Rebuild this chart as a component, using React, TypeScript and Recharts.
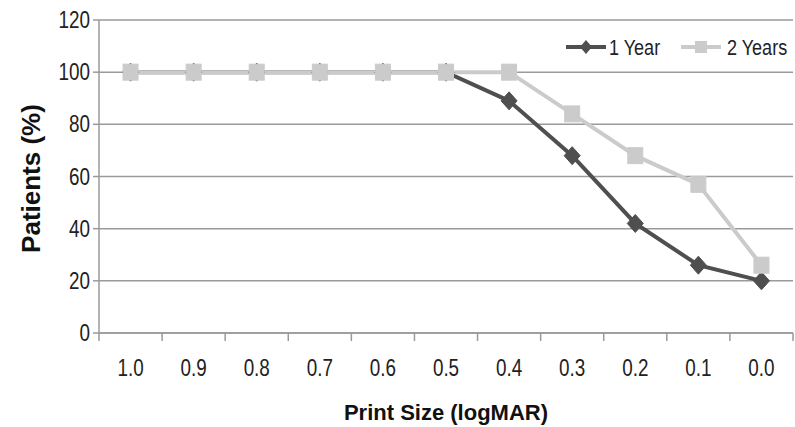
import React from 'react';
import { LineChart, Line, XAxis, YAxis, CartesianGrid, Legend, Label } from 'recharts';

const categories = ['1.0', '0.9', '0.8', '0.7', '0.6', '0.5', '0.4', '0.3', '0.2', '0.1', '0.0'];
const year1 = [100, 100, 100, 100, 100, 100, 89, 68, 42, 26, 20];
const year2 = [100, 100, 100, 100, 100, 100, 100, 84, 68, 57, 26];
const yTicks = [0, 20, 40, 60, 80, 100, 120];

const data = categories.map((c, i) => ({ idx: i, cat: c, y1: year1[i], y2: year2[i] }));
const xTicks: number[] = [];
for (let i = 0; i <= categories.length; i++) {
  xTicks.push(i - 0.5);
  if (i < categories.length) xTicks.push(i);
}

const FONT = '"Liberation Sans", Arial, sans-serif';
const SQUEEZE = 0.82;
const DARK = '#4f4f4f';
const LIGHT = '#cbcbcb';
const AXIS = '#9a9a9a';

const NarrowText = ({ x, y, anchor, size, children }: any) => (
  <g transform={`translate(${x},${y}) scale(${SQUEEZE},1)`}>
    <text x={0} y={0} textAnchor={anchor} fontFamily={FONT} fontSize={size} fill="#222">
      {children}
    </text>
  </g>
);

const XTick = (props: any) => {
  const { x, y, payload } = props;
  const v = payload.value;
  if (Number.isInteger(v)) {
    return (
      <NarrowText x={x} y={y + 43} anchor="middle" size={23}>
        {categories[v]}
      </NarrowText>
    );
  }
  return <line x1={x} x2={x} y1={y} y2={y + 8} stroke={AXIS} strokeWidth={1.5} />;
};

const YTick = (props: any) => {
  const { x, y, payload } = props;
  return (
    <NarrowText x={x} y={y + 8} anchor="end" size={23}>
      {payload.value}
    </NarrowText>
  );
};

const Diamond = (props: any) => {
  const { cx, cy } = props;
  if (cx == null || cy == null) return null;
  return (
    <polygon
      points={`${cx},${cy - 9} ${cx + 8},${cy} ${cx},${cy + 9} ${cx - 8},${cy}`}
      fill={DARK}
      stroke={DARK}
      strokeWidth={1}
    />
  );
};

const Square = (props: any) => {
  const { cx, cy } = props;
  if (cx == null || cy == null) return null;
  return <rect x={cx - 7.5} y={cy - 8} width={15} height={16} fill={LIGHT} stroke={LIGHT} />;
};

const LegendContent = () => (
  <svg width={226} height={26} style={{ display: 'block' }}>
    <line x1={0} x2={40} y1={13} y2={13} stroke={DARK} strokeWidth={4} />
    <polygon points="20,6 26,13 20,20 14,13" fill={DARK} />
    <NarrowText x={43} y={21} anchor="start" size={22}>1 Year</NarrowText>
    <line x1={115} x2={155} y1={13} y2={13} stroke={LIGHT} strokeWidth={4} />
    <rect x={129} y={7} width={12} height={12} fill={LIGHT} />
    <NarrowText x={161} y={21} anchor="start" size={22}>2 Years</NarrowText>
  </svg>
);

export default function App() {
  return (
    <div style={{ position: 'absolute', left: 0, top: 0, background: '#fff' }}>
      <LineChart width={795} height={427} data={data} margin={{ top: 20, right: 2, bottom: 0, left: 0 }}>
        <CartesianGrid vertical={false} stroke={AXIS} strokeWidth={1.5} />
        <XAxis
          dataKey="idx"
          type="number"
          domain={[-0.5, categories.length - 0.5]}
          ticks={xTicks}
          interval={0}
          tickLine={false}
          tickSize={0}
          tickMargin={0}
          tick={<XTick />}
          height={94}
          stroke={AXIS}
          strokeWidth={1.5}
        >
          <Label
            content={(p: any) => {
              const vb = p.viewBox;
              return (
                <text
                  x={vb.x + vb.width / 2}
                  y={vb.y + 87}
                  textAnchor="middle"
                  fontFamily={FONT}
                  fontWeight="bold"
                  fontSize={22}
                  fill="#111"
                >
                  Print Size (logMAR)
                </text>
              );
            }}
          />
        </XAxis>
        <YAxis
          domain={[0, 120]}
          ticks={yTicks}
          width={99}
          tickSize={6}
          tickMargin={3}
          stroke={AXIS}
          strokeWidth={1.5}
          tick={<YTick />}
        >
          <Label
            content={(p: any) => {
              const vb = p.viewBox;
              const cx = vb.x + 31;
              const cy = vb.y + vb.height / 2 + 2;
              return (
                <text
                  x={cx}
                  y={cy}
                  transform={`rotate(-90 ${cx} ${cy})`}
                  textAnchor="middle"
                  dominantBaseline="central"
                  fontFamily={FONT}
                  fontWeight="bold"
                  fontSize={26}
                  fill="#111"
                >
                  Patients (%)
                </text>
              );
            }}
          />
        </YAxis>
        <Legend
          verticalAlign="middle"
          layout="horizontal"
          content={<LegendContent />}
          wrapperStyle={{ top: 34, right: 3, left: 'auto', width: 'auto' }}
        />
        <Line
          name="1 Year"
          dataKey="y1"
          stroke={DARK}
          strokeWidth={4}
          dot={<Diamond />}
          activeDot={false}
          isAnimationActive={false}
        />
        <Line
          name="2 Years"
          dataKey="y2"
          stroke={LIGHT}
          strokeWidth={4}
          dot={<Square />}
          activeDot={false}
          isAnimationActive={false}
        />
      </LineChart>
    </div>
  );
}
